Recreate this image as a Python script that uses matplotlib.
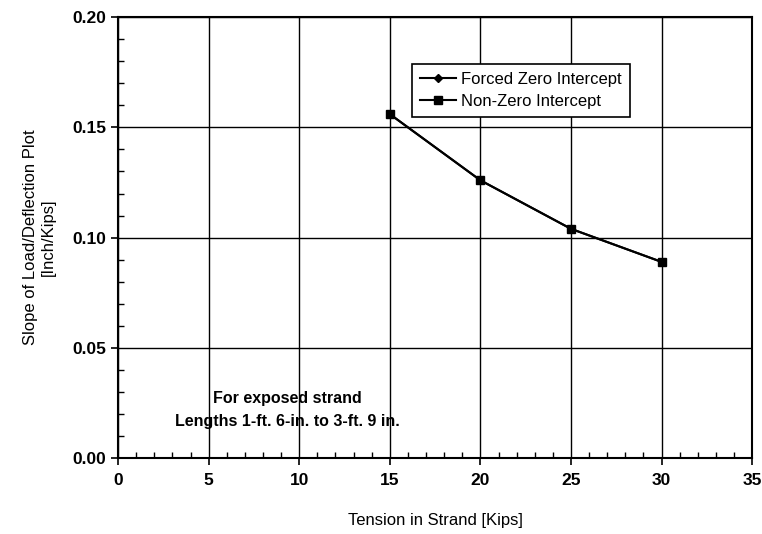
import matplotlib
matplotlib.use("Agg")
import matplotlib.pyplot as plt
from matplotlib.ticker import MultipleLocator

plt.rcParams['font.family'] = ['Liberation Sans', 'DejaVu Sans']

# Tension levels (kips) and slope of load/deflection plot (in/kip)
tension = [15, 20, 25, 30]
slope_forced_zero = [0.156, 0.126, 0.104, 0.089]
slope_non_zero = [0.156, 0.126, 0.104, 0.089]

fig = plt.figure(figsize=(7.62, 5.34), dpi=100)
ax = fig.add_axes([0.155, 0.142, 0.832, 0.826])

ax.plot(tension, slope_forced_zero, color='black', lw=1.5, marker='D',
        markersize=4, label='Forced Zero Intercept', zorder=3)
ax.plot(tension, slope_non_zero, color='black', lw=1.5, marker='s',
        markersize=6, label='Non-Zero Intercept', zorder=4)

ax.set_xlim(0, 35)
ax.set_ylim(0, 0.20)
ax.xaxis.set_major_locator(MultipleLocator(5))
ax.xaxis.set_minor_locator(MultipleLocator(1))
ax.yaxis.set_major_locator(MultipleLocator(0.05))
ax.yaxis.set_minor_locator(MultipleLocator(0.01))
ax.yaxis.set_major_formatter(matplotlib.ticker.FormatStrFormatter('%.2f'))

ax.grid(True, which='major', color='black', lw=1.0)
ax.tick_params(which='major', direction='out', length=5, width=1.2,
               labelsize=12.5, colors='black')
ax.tick_params(which='minor', direction='in', length=4, width=1.0)
ax.tick_params(axis='x', which='major', pad=6)
for lbl in ax.get_xticklabels() + ax.get_yticklabels():
    lbl.set_fontweight('bold')
for sp in ax.spines.values():
    sp.set_linewidth(1.5)

ax.set_xlabel('Tension in Strand [Kips]', fontsize=12, labelpad=18)
ax.set_ylabel('Slope of Load/Deflection Plot\n[Inch/Kips]', fontsize=12,
              labelpad=12)

ax.text(9.33, 0.0218, 'For exposed strand\nLengths 1-ft. 6-in. to 3-ft. 9 in.',
        ha='center', va='center', fontsize=11.5, fontweight='bold',
        linespacing=1.6)

leg = ax.legend(loc='upper left', bbox_to_anchor=(0.464, 0.893), fontsize=12,
                frameon=True, fancybox=False, edgecolor='black',
                framealpha=1, handlelength=2.2, borderpad=0.45,
                labelspacing=0.45, handletextpad=0.3, borderaxespad=0)
leg.get_frame().set_linewidth(1.2)

fig.savefig('out.png', dpi=100)
